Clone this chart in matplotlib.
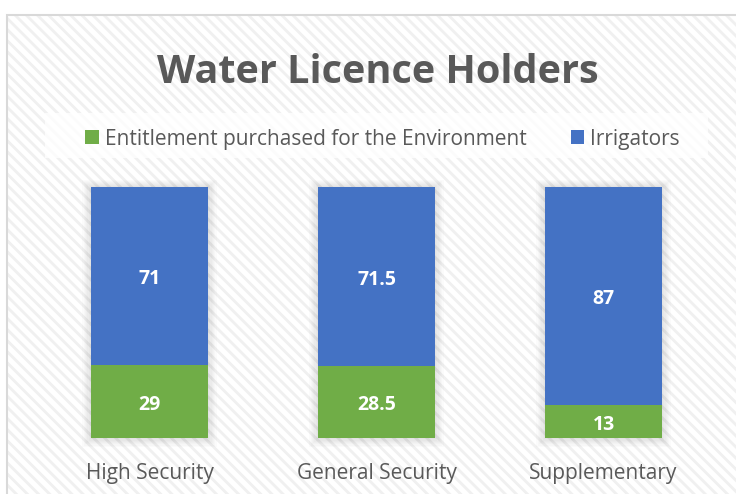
import matplotlib.pyplot as plt
import numpy as np
from matplotlib.patches import Rectangle
from matplotlib.transforms import offset_copy

categories = ['High Security', 'General Security', 'Supplementary']
environment = [29, 28.5, 13]
irrigators = [71, 71.5, 87]
env_labels = ['29', '28.5', '13']
irr_labels = ['71', '71.5', '87']
series_names = ['Entitlement purchased for the Environment', 'Irrigators']

plt.rcParams['font.family'] = ['Open Sans', 'DejaVu Sans']
plt.rcParams['hatch.linewidth'] = 2.0

green = '#70AD47'
blue = '#4472C4'
grey = '#595959'

fig = plt.figure(figsize=(7.36, 4.94), dpi=100)

# chart area with hatched background and border
W, H = 736, 494
bg = Rectangle((7 / W, 0), 1, 1 - 15 / H, transform=fig.transFigure,
               facecolor='white', edgecolor='#f0f0f0', hatch='\\\\\\', linewidth=0, zorder=-2)
fig.patches.append(bg)
border = Rectangle((7 / W, -0.01), 1, 1 - 15 / H + 0.01, transform=fig.transFigure,
                   facecolor='none', edgecolor='#d9d9d9', linewidth=1.5, zorder=-1)
fig.patches.append(border)
# legend box
lbox = Rectangle((45 / W, 1 - 158 / H), 663 / W, 45 / H, transform=fig.transFigure,
                 facecolor='white', edgecolor='none', alpha=0.8, zorder=-1)
fig.patches.append(lbox)

ax = fig.add_axes([36 / W, 56 / H, 681 / W, 251 / H])
ax.patch.set_alpha(0)
x = np.arange(len(categories))
bw = 0.515

# soft shadow
for k in range(1, 8):
    ax.bar(x, 100 + 0.9 * k, width=bw + 0.011 * k, bottom=-0.5 * k, color='black',
           alpha=0.016, linewidth=0, clip_on=False, zorder=1)

b1 = ax.bar(x, environment, width=bw, color=green, label=series_names[0], zorder=3)
b2 = ax.bar(x, irrigators, width=bw, bottom=environment, color=blue, label=series_names[1], zorder=3)

lbl_tr = offset_copy(ax.transData, fig=fig, x=0, y=-3, units='dots')
for i in range(len(categories)):
    ax.text(x[i], environment[i] / 2, env_labels[i], ha='center', va='center',
            color='white', fontsize=14, fontweight='bold', zorder=4, transform=lbl_tr)
    ax.text(x[i], environment[i] + irrigators[i] / 2, irr_labels[i], ha='center', va='center',
            color='white', fontsize=14, fontweight='bold', zorder=4, transform=lbl_tr)

ax.set_xlim(-0.5, 2.5)
ax.set_ylim(0, 100)
ax.set_xticks(x)
ax.set_xticklabels(categories, fontsize=15, color=grey)
ax.tick_params(axis='x', length=0, pad=18)
ax.set_yticks([])
for s in ax.spines.values():
    s.set_visible(False)

fig.text(0.514, 1 - 72 / H, 'Water Licence Holders', ha='center', va='center',
         fontsize=28.5, fontweight='bold', color=grey)

fig.legend(handles=[b1, b2], loc='center', bbox_to_anchor=(0.52, 1 - 139 / H), ncol=2,
           frameon=False, fontsize=15, handlelength=0.65, handleheight=0.65,
           handletextpad=0.3, columnspacing=2.1, labelcolor=grey)

plt.savefig('out.png', dpi=100)
